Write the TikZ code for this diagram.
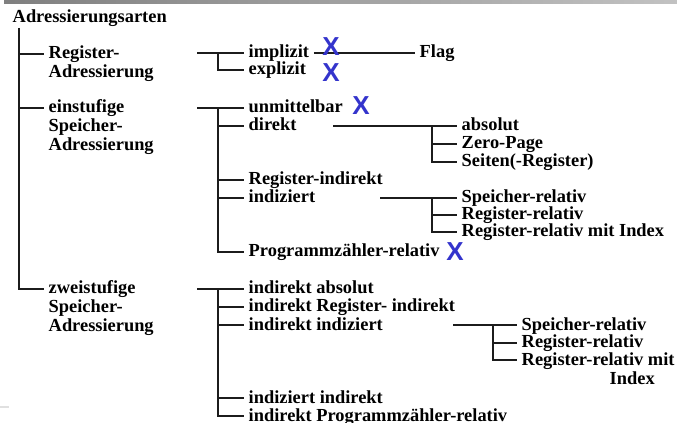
\documentclass[tikz,border=0pt]{standalone}
\usepackage{fontspec}
\setmainfont{Liberation Serif}
\setsansfont{Liberation Sans}
\usepackage{tikz}

\definecolor{xblue}{RGB}{52,52,204}
\definecolor{ink}{RGB}{28,28,28}

\tikzset{
	txt/.style={anchor=west,inner xsep=3pt,inner ysep=0pt,text height=9.5pt,text depth=2pt,
		font=\rmfamily\bfseries\fontsize{13.8}{15}\selectfont},
	cross/.style={inner sep=0pt,text=xblue,font=\sffamily\bfseries\fontsize{19.5}{19.5}\selectfont}
}

\begin{document}
\begin{tikzpicture}[x=0.75pt,y=-0.75pt,line width=1.1pt,draw=ink]
	\useasboundingbox (0,0) rectangle (677,423);
	\shade[left color=black!50,right color=black!24] (4,0) rectangle (677,4);
	\draw[black!12,line width=0.8pt] (0,407) -- (9,407);

	% first column
	\node[txt,inner xsep=0pt] (root) at (12,18) {Adressierungsarten};
	\node[txt] (reg) at (44,54) {Register-};
	\node[txt] (reg2) at (44,73) {Adressierung};
	\node[txt] (ein) at (44,108) {einstufige};
	\node[txt] (ein2) at (44,127) {Speicher-};
	\node[txt] (ein3) at (44,146) {Adressierung};
	\node[txt] (zw) at (44,289) {zweistufige};
	\node[txt] (zw2) at (44,308) {Speicher-};
	\node[txt] (zw3) at (44,327) {Adressierung};
	\coordinate (trunk) at (19,28);
	\draw (trunk) |- (zw);
	\path [] (trunk |- reg) edge (reg);
	\path [] (trunk |- ein) edge (ein);

	% Register-Adressierung
	\node[txt] (impl) at (244,53) {implizit};
	\node[txt] (expl) at (244,70) {explizit};
	\node[txt] (flag) at (415,53) {Flag};
	\coordinate (regA) at (197,53);
	\coordinate (regV) at (218,53);
	\path [] (regA) edge (impl);
	\draw (regV) |- (expl);
	\path [] (impl) edge (flag);

	% einstufige Speicher-Adressierung
	\node[txt] (unm) at (244,108) {unmittelbar};
	\node[txt] (dir) at (244,126) {direkt};
	\node[txt] (rind) at (244,180) {Register-indirekt};
	\node[txt] (ind) at (244,198) {indiziert};
	\node[txt] (pzr) at (244,252) {Programmzähler-relativ};
	\coordinate (einA) at (197,108);
	\coordinate (einV) at (218,108);
	\path [] (einA) edge (unm);
	\draw (einV) |- (pzr);
	\path [] (einV |- dir) edge (dir);
	\path [] (einV |- rind) edge (rind);
	\path [] (einV |- ind) edge (ind);

	\node[txt] (abs) at (457,126) {absolut};
	\node[txt] (zp) at (457,144) {Zero-Page};
	\node[txt] (seit) at (457,162) {Seiten(-Register)};
	\coordinate (dirA) at (333,126);
	\coordinate (dirV) at (432,126);
	\path [] (dirA) edge (abs);
	\draw (dirV) |- (seit);
	\path [] (dirV |- zp) edge (zp);

	\node[txt] (sr) at (457,198) {Speicher-relativ};
	\node[txt] (rr) at (457,215) {Register-relativ};
	\node[txt] (rri) at (457,232) {Register-relativ mit Index};
	\coordinate (indA) at (380,198);
	\coordinate (indV) at (432,198);
	\path [] (indA) edge (sr);
	\draw (indV) |- (rri);
	\path [] (indV |- rr) edge (rr);

	% zweistufige Speicher-Adressierung
	\node[txt] (ia) at (244,289) {indirekt absolut};
	\node[txt] (iri) at (244,307) {indirekt Register- indirekt};
	\node[txt] (iind) at (244,325) {indirekt indiziert};
	\node[txt] (indi) at (244,398) {indiziert indirekt};
	\node[txt] (ipz) at (244,416) {indirekt Programmzähler-relativ};
	\coordinate (zwA) at (197,289);
	\coordinate (zwV) at (218,289);
	\path [] (zwA) edge (ia);
	\draw (zwV) |- (ipz);
	\path [] (zwV |- iri) edge (iri);
	\path [] (zwV |- iind) edge (iind);
	\path [] (zwV |- indi) edge (indi);

	\node[txt] (sr2) at (517,325) {Speicher-relativ};
	\node[txt] (rr2) at (517,343) {Register-relativ};
	\node[txt] (rri2) at (517,360) {Register-relativ mit};
	\node[txt] (idx) at (605,379) {Index};
	\coordinate (iindA) at (453,325);
	\coordinate (iindV) at (493,325);
	\path [] (iindA) edge (sr2);
	\draw (iindV) |- (rri2);
	\path [] (iindV |- rr2) edge (rr2);

	% crosses
	\node[cross] (x1) at (331,47) {X};
	\node[cross] (x2) at (331,73) {X};
	\node[cross] (x3) at (361,106) {X};
	\node[cross] (x4) at (455,252) {X};
\end{tikzpicture}
\end{document}
